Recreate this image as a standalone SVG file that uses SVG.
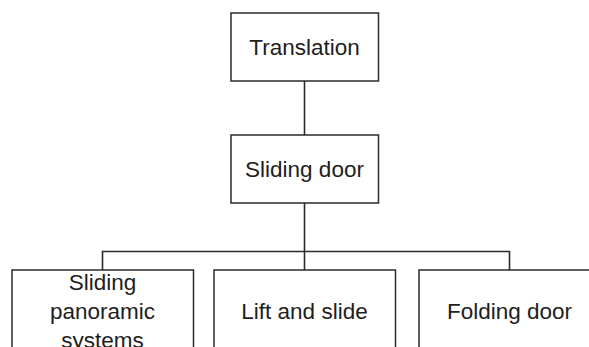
<svg xmlns="http://www.w3.org/2000/svg" width="589" height="347" viewBox="0 0 589 347">
<style>
.box{fill:#fff;stroke:#2a2a2a;stroke-width:1.5}
.lbl{font-family:"Liberation Sans",Arial,sans-serif;font-size:22.5px;fill:#1e1e1e;text-anchor:middle}
.con{stroke:#2a2a2a;stroke-width:1.6;fill:none}
</style>
<rect width="589" height="347" fill="#fff"/>
<g id="connectors">
<line class="con" x1="304.5" y1="81" x2="304.5" y2="135"/>
<line class="con" x1="304.5" y1="203" x2="304.5" y2="270"/>
<polyline class="con" points="102.5,270 102.5,251.5 509.5,251.5 509.5,270"/>
</g>
<g id="translation">
<rect class="box" x="231" y="13" width="147.5" height="68"/>
<text class="lbl" x="304.5" y="55">Translation</text>
</g>
<g id="sliding-door">
<rect class="box" x="231" y="135" width="147.5" height="68"/>
<text class="lbl" x="304.5" y="176.5">Sliding door</text>
</g>
<g id="sliding-panoramic">
<rect class="box" x="12" y="270" width="181.5" height="100"/>
<text class="lbl" x="102.5" y="290">Sliding</text>
<text class="lbl" x="102.5" y="319">panoramic</text>
<text class="lbl" x="102.5" y="348">systems</text>
</g>
<g id="lift-and-slide">
<rect class="box" x="214" y="270" width="181.5" height="100"/>
<text class="lbl" x="304.5" y="319">Lift and slide</text>
</g>
<g id="folding-door">
<rect class="box" x="419" y="270" width="181.5" height="100"/>
<text class="lbl" x="509.5" y="319">Folding door</text>
</g>
</svg>
